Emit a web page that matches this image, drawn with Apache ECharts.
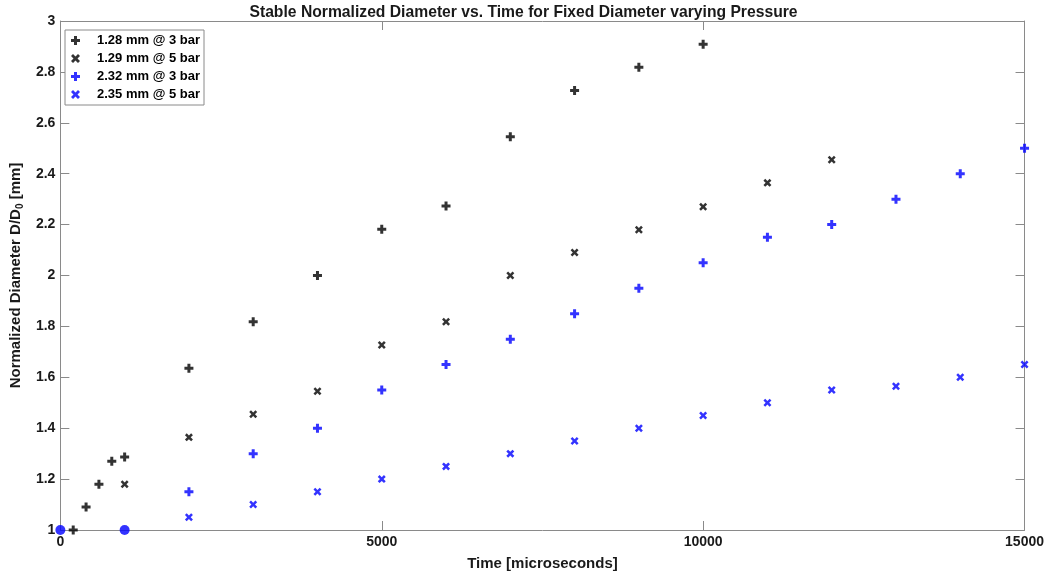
<!DOCTYPE html>
<html><head><meta charset="utf-8">
<script src="https://cdn.jsdelivr.net/npm/echarts@6/dist/echarts.min.js"></script>
<style>html,body{margin:0;padding:0;background:#fff}#c{width:1047px;height:577px}</style>
</head><body><div id="c"></div>
<script>
const seriesNames = ['1.28 mm @ 3 bar', '1.29 mm @ 5 bar', '2.32 mm @ 3 bar', '2.35 mm @ 5 bar'];
const s1x = [200, 400, 600, 800, 1000, 2000, 3000, 4000, 5000, 6000, 7000, 8000, 9000, 10000];
const s1y = [1.0, 1.09, 1.18, 1.27, 1.287, 1.636, 1.818, 2.0, 2.182, 2.273, 2.545, 2.727, 2.818, 2.909];
const s2x = [1000, 2000, 3000, 4000, 5000, 6000, 7000, 8000, 9000, 10000, 11000, 12000];
const s2y = [1.18, 1.364, 1.455, 1.545, 1.727, 1.818, 2.0, 2.09, 2.18, 2.27, 2.364, 2.455];
const s3x = [2000, 3000, 4000, 5000, 6000, 7000, 8000, 9000, 10000, 11000, 12000, 13000, 14000, 15000];
const s3y = [1.15, 1.3, 1.4, 1.55, 1.65, 1.75, 1.85, 1.95, 2.05, 2.15, 2.2, 2.3, 2.4, 2.5];
const s4x = [2000, 3000, 4000, 5000, 6000, 7000, 8000, 9000, 10000, 11000, 12000, 13000, 14000, 15000];
const s4y = [1.05, 1.1, 1.15, 1.2, 1.25, 1.3, 1.35, 1.4, 1.45, 1.5, 1.55, 1.565, 1.6, 1.65];
const circX = [0, 1000];
const circY = [1, 1];
const xTicks = [0, 5000, 10000, 15000];

const zip = (xs, ys) => xs.map((x, i) => [x, ys[i]]);
const plusPath = 'path://M3,0h3v3h3v3h-3v3h-3v-3h-3v-3h3z';
const crossPath = 'path://M0,2L2,0L4.5,2.5L7,0L9,2L6.5,4.5L9,7L7,9L4.5,6.5L2,9L0,7L2.5,4.5Z';
const axisColor = '#8a8a8a';
const font = 'Liberation Sans, Arial, sans-serif';
const txt = '#1a1a1a';

const baseAxis = {
  axisLine: { show: true, onZero: false, lineStyle: { color: axisColor } },
  axisTick: { show: true, inside: true, length: 9, lineStyle: { color: axisColor } },
  splitLine: { show: false }
};

const chart = echarts.init(document.getElementById('c'));
chart.setOption({
  animation: false,
  backgroundColor: '#fff',
  title: {
    text: 'Stable Normalized Diameter vs. Time for Fixed Diameter varying Pressure',
    left: 'center', top: 0,
    textStyle: { fontFamily: font, fontWeight: 'bold', fontSize: 15.7, color: txt }
  },
  grid: { left: 58, right: 22, top: 21, bottom: 47, containLabel: false },
  legend: {
    orient: 'vertical', left: 65, top: 30,
    data: seriesNames,
    itemWidth: 9, itemHeight: 9, itemGap: 5,
    padding: [4, 4, 4, 6],
    borderColor: '#8a8a8a', borderWidth: 1, backgroundColor: '#fff',
    textStyle: { fontFamily: font, fontWeight: 'bold', fontSize: 13, color: '#000', padding: [0, 0, 0, 12] }
  },
  xAxis: [Object.assign({}, baseAxis, {
    type: 'value', min: 0, max: 15000, interval: 5000,
    name: 'Time [microseconds]', nameLocation: 'middle', nameGap: 26,
    nameTextStyle: { fontFamily: font, fontWeight: 'bold', fontSize: 15, color: txt },
    axisLabel: { fontFamily: font, fontWeight: 'bold', fontSize: 14, color: txt, margin: 5,
      formatter: v => xTicks.includes(v) ? String(v) : '' }
  }), Object.assign({}, baseAxis, {
    type: 'value', min: 0, max: 15000, interval: 5000, position: 'top',
    axisLabel: { show: false }
  })],
  yAxis: [Object.assign({}, baseAxis, {
    type: 'value', min: 1, max: 3, interval: 0.2,
    name: '{a|Normalized Diameter D/D}{s|0}{a| [mm]}', nameLocation: 'middle', nameGap: 23,
    nameTextStyle: {
      rich: {
        a: { fontFamily: font, fontWeight: 'bold', fontSize: 15, color: txt },
        s: { fontFamily: font, fontWeight: 'bold', fontSize: 10, color: txt, padding: [9, 0, 0, 0] }
      }
    },
    axisLabel: { fontFamily: font, fontWeight: 'bold', fontSize: 14, color: txt, margin: 5,
      formatter: v => String(Math.round(v * 10) / 10) }
  }), Object.assign({}, baseAxis, {
    type: 'value', min: 1, max: 3, interval: 0.2, position: 'right',
    axisLabel: { show: false }
  })],
  series: [
    { name: seriesNames[0], type: 'scatter', data: zip(s1x, s1y), symbol: plusPath, symbolSize: 9,
      itemStyle: { color: '#000' } },
    { name: seriesNames[1], type: 'scatter', data: zip(s2x, s2y), symbol: crossPath, symbolSize: 8,
      itemStyle: { color: '#000' } },
    { name: seriesNames[2], type: 'scatter', data: zip(s3x, s3y), symbol: plusPath, symbolSize: 9,
      itemStyle: { color: '#0000ff' } },
    { name: seriesNames[3], type: 'scatter', data: zip(s4x, s4y), symbol: crossPath, symbolSize: 8,
      itemStyle: { color: '#0000ff' } },
    { name: 'start', type: 'scatter', data: zip(circX, circY), symbol: 'circle', symbolSize: 10,
      itemStyle: { color: '#0000ff' }, z: 5 }
  ]
});
</script></body></html>
